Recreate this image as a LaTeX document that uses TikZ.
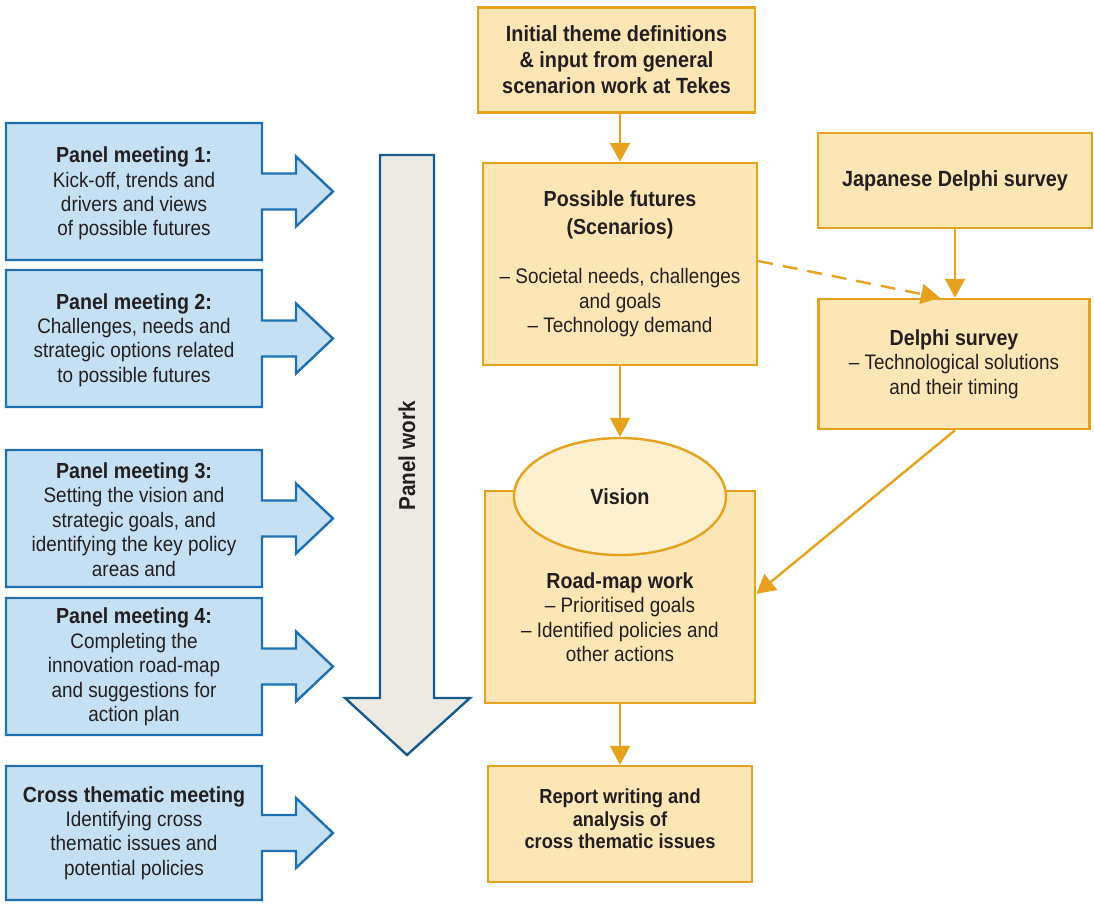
\documentclass[tikz,border=0pt]{standalone}
\usepackage{fontspec}
\setmainfont{Liberation Sans}[FakeStretch=0.9]
\usetikzlibrary{arrows.meta,shapes.geometric}
\definecolor{oborder}{HTML}{E5A21E}
\definecolor{ofill}{HTML}{FCE6B6}
\definecolor{efill}{HTML}{FDF0CF}
\definecolor{bfill}{HTML}{C6E0F3}
\definecolor{bborder}{HTML}{1D70B2}
\definecolor{gfill}{HTML}{EDEAE4}
\definecolor{gborder}{HTML}{175A8C}
\definecolor{txt}{HTML}{231F20}
\newcommand{\rsz}{\fontsize{21}{24.4}\selectfont}
\newcommand{\bhd}[1]{{\fontsize{21.8}{24.4}\selectfont\bfseries #1}}
\tikzset{
  obox/.style={draw=oborder, fill=ofill, line width=2.4pt, inner sep=0pt},
  panelshape/.style={draw=bborder, fill=bfill, line width=2.4pt, line join=miter},
  ptext/.style={align=center, text=txt, font=\rsz},
  flow/.style={draw=oborder, line width=2.4pt, -{Triangle[length=19pt,width=20pt]}},
}
\begin{document}
\begin{tikzpicture}[x=1pt,y=-1pt]
\useasboundingbox (0,0) rectangle (1094,903);
% panel shapes
\foreach \t/\b in {123/260, 270/407, 450/587, 598/735, 766/900}{
  \pgfmathsetmacro{\c}{(\t+\b)/2}
  \path[panelshape] (6,\t) -- (262,\t) -- (262,\c-18) -- (296,\c-18) -- (296,\c-35)
    -- (333,\c) -- (296,\c+35) -- (296,\c+18) -- (262,\c+18) -- (262,\b) -- (6,\b) -- cycle;
}
\node[ptext] (p1) at (134,193.5) {\bhd{Panel meeting 1:}\\Kick-off, trends and\\drivers and views\\of possible futures};
\node[ptext] (p2) at (134,340) {\bhd{Panel meeting 2:}\\Challenges, needs and\\strategic options related\\to possible futures};
\node[ptext] (p3) at (134,519.5) {\bhd{Panel meeting 3:}\\Setting the vision and\\strategic goals, and\\identifying the key policy\\areas and};
\node[ptext] (p4) at (134,667) {\bhd{Panel meeting 4:}\\Completing the\\innovation road-map\\and suggestions for\\action plan};
\node[ptext] (p5) at (134,833) {\bhd{Cross thematic meeting}\\Identifying cross\\thematic issues and\\potential policies};
% panel work arrow
\path[draw=gborder, fill=gfill, line width=2.4pt, line join=miter]
  (380,155) -- (434,155) -- (434,698) -- (470,698) -- (407,755) -- (345,698) -- (380,698) -- cycle;
\node[ptext, rotate=90, font=\fontsize{23}{24}\selectfont\bfseries] (pw) at (407,456) {Panel work};
% right side boxes
\node[obox, minimum width=277pt, minimum height=105pt] (init) at (616.5,60)
  {\parbox{270pt}{\centering\color{txt}\fontsize{22}{26}\selectfont\bfseries Initial theme definitions\\\& input from general\\scenarion work at Tekes}};
\node[obox, minimum width=274pt, minimum height=202pt] (fut) at (620,264)
  {\parbox{270pt}{\centering\color{txt}\rsz\bhd{Possible futures}\\[3pt]\bhd{(Scenarios)}\\[25pt]– Societal needs, challenges\\and goals\\– Technology demand}};
\node[obox, minimum width=274pt, minimum height=95pt] (jap) at (955,180.5)
  {\color{txt}\fontsize{22}{24}\selectfont\bfseries Japanese Delphi survey};
\node[obox, minimum width=271pt, minimum height=130pt] (del) at (954,364)
  {\parbox{265pt}{\centering\color{txt}\rsz\bhd{Delphi survey}\\– Technological solutions\\and their timing}};
\node[obox, minimum width=270pt, minimum height=212pt] (road) at (620,597) {};
\node[draw=oborder, fill=efill, line width=2.4pt, ellipse, minimum width=212pt, minimum height=117pt, inner sep=0pt] (vis) at (620,496.5)
  {\color{txt}\fontsize{22}{24}\selectfont\bfseries Vision};
\node[ptext] (roadtxt) at (620,617) {\bhd{Road-map work}\\– Prioritised goals\\– Identified policies and\\other actions};
\node[obox, minimum width=264pt, minimum height=116pt] (rep) at (620,824)
  {\parbox{260pt}{\centering\color{txt}\fontsize{20.3}{22.5}\selectfont\bfseries Report writing and\\analysis of\\cross thematic issues\par\vspace{10pt}}};
% connectors
\draw[flow] (init.south -| fut.north) -- (fut.north);
\draw[flow] (fut.south) -- (vis.north);
\draw[flow] (road.south) -- (rep.north);
\draw[flow] (jap.south -| 955,0) -- (del.north -| 955,0);
\draw[flow, dash pattern=on 15pt off 10pt] (fut.east |- 0,261) -- (del.north -| 940,0);
\draw[flow] (del.south -| 955,0) -- (road.east |- 0,594);
\end{tikzpicture}
\end{document}
